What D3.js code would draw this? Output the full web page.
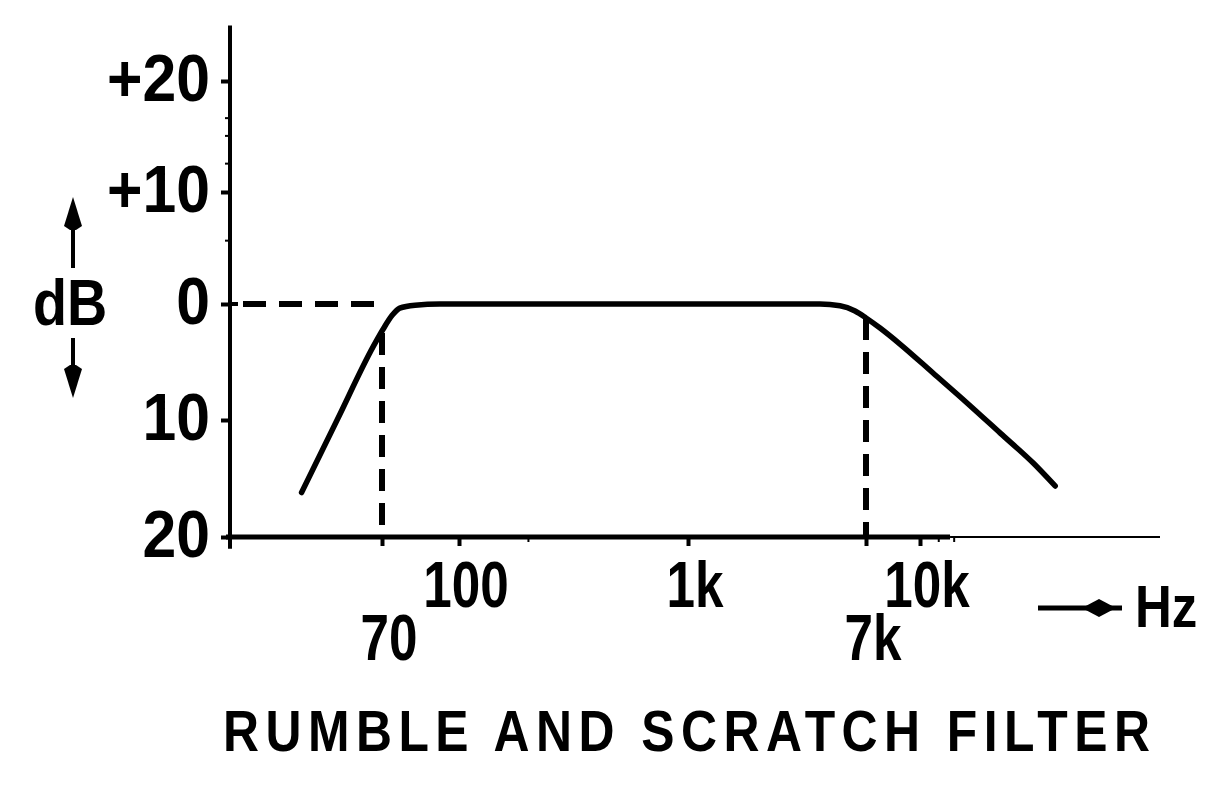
<!DOCTYPE html>
<html>
<head>
<meta charset="utf-8">
<script src="https://cdn.jsdelivr.net/npm/d3@7"></script>
<style>
  html, body { margin: 0; padding: 0; background: #fff; }
  svg { display: block; }
  text { font-family: "Liberation Sans", Arial, sans-serif; font-weight: bold; fill: #000; }
</style>
</head>
<body>
<script>
// ---------- data ----------
const freqHz = [25, 39.4, 62.4, 70.3, 73.3, 76, 81.6, 91.5, 200, 500, 1000, 2000, 3400, 4230, 5270, 6210, 7000, 7680, 8760, 11390, 16000, 22300, 31000, 38600];
const gainDb = [-16.2, -10, -3.7, -2.2, -1.0, -0.35, -0.1, 0, 0, 0, 0, 0, 0, 0, -0.15, -0.6, -1.2, -2.07, -3.45, -5.95, -8.53, -11.12, -13.68, -15.64];

const yTickValues = [-20, -10, 0, 10, 20];
const yTickLabels = ["20", "10", "0", "+10", "+20"];
const yMinorTicks = [5.7, 12.6, 15.1, 16.7];

const xTickValues = [100, 1000, 10000];
const xTickLabels = ["100", "1k", "10k"];
const cutoffValues = [70, 7000];
const cutoffLabels = ["70", "7k"];
const cutoffDb = [-2.5, -1.2];
const xMinorTicks = [200, 12000, 14000];

const title = "RUMBLE AND SCRATCH FILTER";
const yUnit = "dB";
const xUnit = "Hz";

// ---------- scales (hand-drawn axis: piecewise) ----------
const x = d3.scaleLog()
  .domain([10, 70, 100, 1000, 7000, 10000, 110000])
  .range([230, 382, 459, 688, 866, 920, 1160]);
const y = d3.scaleLinear()
  .domain([-20, -10, 0, 10, 20])
  .range([537, 420, 304, 192, 81]);
const yExtent = [-21, 25];

const W = 1217, H = 794;
const svg = d3.select("body").append("svg").attr("width", W).attr("height", H);
svg.append("rect").attr("width", W).attr("height", H).attr("fill", "#fff");

// ---------- dashed reference lines ----------
svg.append("line")
  .attr("x1", x(10)).attr("x2", x(cutoffValues[0]))
  .attr("y1", y(0)).attr("y2", y(0))
  .attr("stroke", "#000").attr("stroke-width", 6)
  .attr("stroke-dasharray", "23,13").attr("stroke-dashoffset", 23);

cutoffValues.forEach((v, i) => {
  svg.append("line")
    .attr("x1", x(v)).attr("x2", x(v))
    .attr("y1", y(cutoffDb[i])).attr("y2", y(-20))
    .attr("stroke", "#000").attr("stroke-width", 6)
    .attr("stroke-dasharray", "22,12");
});

// ---------- axes ----------
svg.append("line")
  .attr("x1", x(10)).attr("x2", x(10))
  .attr("y1", y(yExtent[1])).attr("y2", y(yExtent[0]))
  .attr("stroke", "#000").attr("stroke-width", 4);

const yAxis = d3.axisLeft(y).tickValues(yTickValues).tickSize(9).tickSizeOuter(0).tickFormat("");
const gy = svg.append("g").attr("transform", `translate(${x(10)},0)`).call(yAxis);
gy.select(".domain").remove();
gy.selectAll(".tick line").attr("stroke", "#000").attr("stroke-width", 4);

const yMinor = d3.axisLeft(y).tickValues(yMinorTicks).tickSize(5).tickSizeOuter(0).tickFormat("");
const gym = svg.append("g").attr("transform", `translate(${x(10)},0)`).call(yMinor);
gym.select(".domain").remove();
gym.selectAll(".tick line").attr("stroke", "#000").attr("stroke-width", 2);

svg.append("line")
  .attr("x1", x(10)).attr("x2", x(10) + 8)
  .attr("y1", y(0)).attr("y2", y(0))
  .attr("stroke", "#000").attr("stroke-width", 4);

svg.append("line")
  .attr("x1", x(10) - 4).attr("x2", x(13500))
  .attr("y1", y(-20)).attr("y2", y(-20))
  .attr("stroke", "#000").attr("stroke-width", 5);
svg.append("line")
  .attr("x1", x(13500)).attr("x2", x(110000))
  .attr("y1", y(-20)).attr("y2", y(-20))
  .attr("stroke", "#000").attr("stroke-width", 2);

const xAxis = d3.axisBottom(x).tickValues(xTickValues.concat(cutoffValues)).tickSize(9).tickSizeOuter(0).tickFormat("");
const gx = svg.append("g").attr("transform", `translate(0,${y(-20)})`).call(xAxis);
gx.select(".domain").remove();
gx.selectAll(".tick line").attr("stroke", "#000").attr("stroke-width", 4);

const xMinor = d3.axisBottom(x).tickValues(xMinorTicks).tickSize(5).tickSizeOuter(0).tickFormat("");
const gxm = svg.append("g").attr("transform", `translate(0,${y(-20)})`).call(xMinor);
gxm.select(".domain").remove();
gxm.selectAll(".tick line").attr("stroke", "#000").attr("stroke-width", 2);

// ---------- curve ----------
const pts = freqHz.map((f, i) => [f, gainDb[i]]);
const line = d3.line()
  .x(d => x(d[0]))
  .y(d => y(d[1]))
  .curve(d3.curveMonotoneX);
svg.append("path")
  .datum(pts)
  .attr("d", line)
  .attr("fill", "none")
  .attr("stroke", "#000")
  .attr("stroke-width", 5.5)
  .attr("stroke-linejoin", "round")
  .attr("stroke-linecap", "round");

// ---------- labels ----------
svg.append("g").selectAll("text")
  .data(yTickValues)
  .join("text")
  .attr("transform", d => `translate(210,${y(d) + 20}) scale(0.92,1)`)
  .attr("text-anchor", "end")
  .attr("font-size", 66)
  .text((d, i) => yTickLabels[i]);

function xLabel(v, label, baseline) {
  svg.append("text")
    .attr("transform", `translate(${x(v) + 7},${baseline}) scale(0.8,1)`)
    .attr("text-anchor", "middle")
    .attr("font-size", 64)
    .text(label);
}
xTickValues.forEach((v, i) => xLabel(v, xTickLabels[i], 607));
cutoffValues.forEach((v, i) => xLabel(v, cutoffLabels[i], 660));

// dB with arrows
svg.append("text")
  .attr("transform", "translate(70,325) scale(0.87,1)")
  .attr("text-anchor", "middle")
  .attr("font-size", 64)
  .text(yUnit);
svg.append("line").attr("x1", 73).attr("x2", 73).attr("y1", 268).attr("y2", 215)
  .attr("stroke", "#000").attr("stroke-width", 4);
svg.append("path").attr("d", "M73,197 L82,226 L76,230 L70,230 L64,226 Z").attr("fill", "#000");
svg.append("line").attr("x1", 73).attr("x2", 73).attr("y1", 338).attr("y2", 380)
  .attr("stroke", "#000").attr("stroke-width", 4);
svg.append("path").attr("d", "M73,398 L82,369 L76,365 L70,365 L64,369 Z").attr("fill", "#000");

// Hz with arrow
svg.append("line").attr("x1", 1038).attr("x2", 1122).attr("y1", 608).attr("y2", 608)
  .attr("stroke", "#000").attr("stroke-width", 5);
svg.append("path").attr("d", "M1082,608 L1099,599 L1116,608 L1099,617 Z").attr("fill", "#000");
svg.append("text")
  .attr("transform", "translate(1135,627) scale(0.85,1)")
  .attr("text-anchor", "start")
  .attr("font-size", 60)
  .text(xUnit);

// title
svg.append("text")
  .attr("transform", "translate(223,751) scale(0.86,1)")
  .attr("font-size", 58)
  .attr("textLength", 927 / 0.86)
  .attr("lengthAdjust", "spacing")
  .text(title);
</script>
</body>
</html>
